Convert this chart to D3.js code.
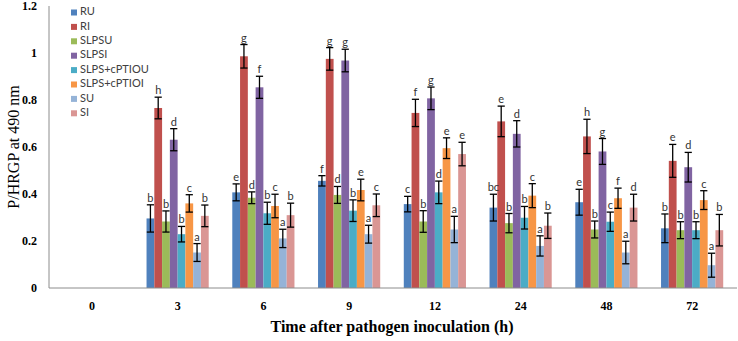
<!DOCTYPE html>
<html>
<head>
<meta charset="utf-8">
<script src="https://cdn.jsdelivr.net/npm/d3@7/dist/d3.min.js"></script>
<style>
  html, body { margin: 0; padding: 0; background: #fff; }
  svg { display: block; }
</style>
</head>
<body>
<svg id="chart" width="738" height="341"></svg>
<script>
// ---- data ----
const categories = ["0", "3", "6", "9", "12", "24", "48", "72"];
const seriesNames = ["RU", "RI", "SLPSU", "SLPSI", "SLPS+cPTIOU", "SLPS+cPTIOI", "SU", "SI"];
const seriesColors = ["#4F81BD", "#C0504D", "#9BBB59", "#8064A2", "#4BACC6", "#F79646", "#95B3D7", "#DA9694"];

const RU    = [null, 0.296, 0.407, 0.456, 0.357, 0.342, 0.365, 0.254];
const RI    = [null, 0.766, 0.986, 0.975, 0.745, 0.709, 0.645, 0.541];
const SLPSU = [null, 0.283, 0.384, 0.396, 0.283, 0.276, 0.249, 0.246];
const SLPSI = [null, 0.631, 0.854, 0.968, 0.807, 0.656, 0.581, 0.514];
const SLPScPTIOU = [null, 0.229, 0.318, 0.329, 0.407, 0.299, 0.282, 0.246];
const SLPScPTIOI = [null, 0.360, 0.349, 0.417, 0.595, 0.393, 0.382, 0.374];
const SU    = [null, 0.151, 0.211, 0.229, 0.249, 0.179, 0.151, 0.097];
const SI    = [null, 0.307, 0.310, 0.352, 0.570, 0.265, 0.342, 0.246];

const RU_err    = [null, 0.058, 0.036, 0.022, 0.033, 0.057, 0.055, 0.061];
const RI_err    = [null, 0.046, 0.050, 0.048, 0.058, 0.065, 0.073, 0.070];
const SLPSU_err = [null, 0.045, 0.025, 0.036, 0.046, 0.041, 0.036, 0.036];
const SLPSI_err = [null, 0.047, 0.047, 0.048, 0.048, 0.056, 0.055, 0.063];
const SLPScPTIOU_err = [null, 0.033, 0.047, 0.046, 0.048, 0.048, 0.041, 0.036];
const SLPScPTIOI_err = [null, 0.037, 0.050, 0.046, 0.044, 0.051, 0.043, 0.040];
const SU_err    = [null, 0.038, 0.039, 0.038, 0.056, 0.043, 0.048, 0.051];
const SI_err    = [null, 0.046, 0.051, 0.048, 0.050, 0.054, 0.057, 0.067];

const RU_lbl    = ["", "b", "e", "f", "c", "bc", "e", "b"];
const RI_lbl    = ["", "h", "g", "g", "f", "e", "h", "e"];
const SLPSU_lbl = ["", "b", "d", "d", "b", "b", "b", "b"];
const SLPSI_lbl = ["", "d", "f", "g", "g", "d", "g", "d"];
const SLPScPTIOU_lbl = ["", "b", "b", "b", "d", "b", "c", "b"];
const SLPScPTIOI_lbl = ["", "c", "c", "e", "e", "c", "f", "c"];
const SU_lbl    = ["", "a", "a", "a", "a", "a", "a", "a"];
const SI_lbl    = ["", "b", "b", "c", "e", "b", "d", "b"];

const yTicks = [0, 0.2, 0.4, 0.6, 0.8, 1, 1.2];
const yTitle = "P/HRGP at 490 nm";
const xTitle = "Time after pathogen inoculation (h)";

const seriesValues = [RU, RI, SLPSU, SLPSI, SLPScPTIOU, SLPScPTIOI, SU, SI];
const seriesErrors = [RU_err, RI_err, SLPSU_err, SLPSI_err, SLPScPTIOU_err, SLPScPTIOI_err, SU_err, SI_err];
const seriesLabels = [RU_lbl, RI_lbl, SLPSU_lbl, SLPSI_lbl, SLPScPTIOU_lbl, SLPScPTIOI_lbl, SU_lbl, SI_lbl];

// ---- layout ----
const svg = d3.select("#chart");
const mLeft = 49, mRight = 735, mTop = 6, mBottom = 288;

const x0 = d3.scaleBand().domain(categories).range([mLeft, mRight])
  .paddingInner(0.275).paddingOuter(0.1375);
const x1 = d3.scaleBand().domain(seriesNames).range([0, x0.bandwidth()]).padding(0);
const y = d3.scaleLinear().domain([0, 1.2]).range([mBottom, mTop]);

const axisColor = "#8c8c8c";

// bars
const rows = [];
seriesNames.forEach((s, si) => {
  categories.forEach((c, ci) => {
    const v = seriesValues[si][ci];
    if (v == null) return;
    rows.push({ s, si, c, v, e: seriesErrors[si][ci], l: seriesLabels[si][ci] });
  });
});

const g = svg.append("g");
g.selectAll("rect.bar").data(rows).join("rect")
  .attr("class", "bar")
  .attr("x", d => x0(d.c) + x1(d.s))
  .attr("y", d => y(d.v))
  .attr("width", x1.bandwidth())
  .attr("height", d => y(0) - y(d.v))
  .attr("fill", d => seriesColors[d.si]);

// error bars
const cap = 3.6;
const cx = d => x0(d.c) + x1(d.s) + x1.bandwidth() / 2;
const eb = g.selectAll("g.err").data(rows).join("g").attr("class", "err")
  .attr("stroke", "#000").attr("stroke-width", 1.3);
eb.append("line")
  .attr("x1", cx).attr("x2", cx)
  .attr("y1", d => y(d.v + d.e)).attr("y2", d => y(d.v - d.e));
eb.append("line")
  .attr("x1", d => cx(d) - cap).attr("x2", d => cx(d) + cap)
  .attr("y1", d => y(d.v + d.e)).attr("y2", d => y(d.v + d.e));
eb.append("line")
  .attr("x1", d => cx(d) - cap).attr("x2", d => cx(d) + cap)
  .attr("y1", d => y(d.v - d.e)).attr("y2", d => y(d.v - d.e));

// significance letters
g.selectAll("text.sig").data(rows).join("text")
  .attr("class", "sig")
  .attr("x", cx)
  .attr("y", d => y(d.v + d.e) - 3)
  .attr("text-anchor", "middle")
  .attr("font-family", "Lato, 'Liberation Sans', sans-serif")
  .attr("font-size", 11)
  .attr("fill", "#333")
  .text(d => d.l);

// y axis
const yAxis = d3.axisLeft(y).tickValues(yTicks).tickSize(0).tickPadding(12)
  .tickFormat(d => String(d));
const ya = svg.append("g").attr("transform", `translate(${mLeft},0)`).call(yAxis);
ya.select(".domain").attr("stroke", axisColor).attr("d", `M0,${mTop}V${mBottom}`);
ya.selectAll("text")
  .attr("font-family", "'Liberation Serif', 'DejaVu Serif', serif")
  .attr("font-weight", "bold").attr("font-size", 12).attr("fill", "#000");

// x axis
const xAxis = d3.axisBottom(x0).tickSize(0).tickPadding(13);
const xa = svg.append("g").attr("transform", `translate(0,${mBottom})`).call(xAxis);
xa.select(".domain").attr("stroke", axisColor).attr("d", `M${mLeft},0H${mRight + 2}`);
xa.selectAll("text")
  .attr("font-family", "'Liberation Serif', 'DejaVu Serif', serif")
  .attr("font-weight", "bold").attr("font-size", 12).attr("fill", "#000");

// axis titles
svg.append("text")
  .attr("transform", `translate(15,${(mTop + mBottom) / 2}) rotate(-90)`)
  .attr("text-anchor", "middle").attr("dominant-baseline", "middle")
  .attr("font-family", "'Liberation Serif', 'DejaVu Serif', serif")
  .attr("font-size", 16).attr("fill", "#000")
  .text(yTitle);
svg.append("text")
  .attr("x", 392).attr("y", 332)
  .attr("text-anchor", "middle")
  .attr("font-family", "'Liberation Serif', 'DejaVu Serif', serif")
  .attr("font-weight", "bold").attr("font-size", 16).attr("fill", "#000")
  .text(xTitle);

// legend
const lg = svg.append("g").attr("transform", "translate(71,12.5)");
const li = lg.selectAll("g").data(seriesNames).join("g")
  .attr("transform", (d, i) => `translate(0,${i * 14.4})`);
li.append("rect").attr("x", 0).attr("y", -3).attr("width", 6).attr("height", 6)
  .attr("fill", (d, i) => seriesColors[i]);
li.append("text").attr("x", 9).attr("y", 0).attr("dominant-baseline", "middle")
  .attr("font-family", "Lato, 'Liberation Sans', sans-serif")
  .attr("font-size", 11).attr("fill", "#404040")
  .text(d => d);
</script>
</body>
</html>
